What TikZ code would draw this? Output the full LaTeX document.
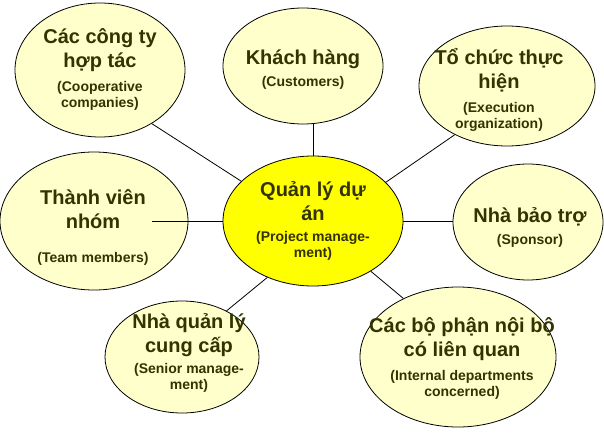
\documentclass[tikz,border=0pt]{standalone}
\usepackage{fontspec}
\setmainfont{Liberation Sans}
\definecolor{bubfill}{HTML}{FFFFCC}
\definecolor{hubfill}{HTML}{FFFF00}
\definecolor{txtcol}{HTML}{333300}
\newcommand\sub[1]{{\fontsize{14}{16}\selectfont #1}}
\begin{document}
\begin{tikzpicture}[x=1pt,y=-1pt,
  bub/.style={ellipse,draw=black,line width=0.8pt,fill=bubfill,inner sep=0pt},
  hub/.style={bub,fill=hubfill},
  txt/.style={align=center,text=txtcol,inner sep=0pt,font=\bfseries\fontsize{20}{24}\selectfont},
  conn/.style={draw=black,line width=0.8pt}]
\usetikzlibrary{shapes.geometric}
\useasboundingbox (0,0) rectangle (604,433);
\fill[white] (0,0) rectangle (604,433);
% bubbles
\node[bub,minimum width=170pt,minimum height=134pt] (coop) at (100,70) {};
\node[bub,minimum width=160pt,minimum height=116pt] (cust) at (303,66) {};
\node[bub,minimum width=176pt,minimum height=120pt] (exec) at (507,86) {};
\node[bub,minimum width=188pt,minimum height=138pt] (team) at (94,221) {};
\node[hub,minimum width=180pt,minimum height=130pt] (hubn) at (313,221) {};
\node[bub,minimum width=150pt,minimum height=116pt] (spons) at (528,222) {};
\node[bub,minimum width=154pt,minimum height=112pt] (senior) at (182,357) {};
\node[bub,minimum width=196pt,minimum height=140pt] (inner) at (458,357) {};
% texts
\node[txt] (coopt) at (100,69) {Các công ty\\hợp tác\\\sub{(Cooperative}\\[-8pt]\sub{companies)}};
\node[txt] (custt) at (303,70) {Khách hàng\\[-2pt]\sub{(Customers)}};
\node[txt] (exect) at (499,90) {Tổ chức thực\\hiện\\\sub{(Execution}\\[-8pt]\sub{organization)}};
\node[txt] (teamt) at (93,227) {Thành viên\\nhóm\\[10pt]\sub{(Team members)}};
\node[txt] (hubt) at (313,221) {Quản lý dự\\án\\[-3pt]\sub{(Project manage-}\\[-8pt]\sub{ment)}};
\node[txt] (sponst) at (530,227) {Nhà bảo trợ\\[-2pt]\sub{(Sponsor)}};
\node[txt] (seniort) at (189,353) {Nhà quản lý\\cung cấp\\[-3pt]\sub{(Senior manage-}\\[-8pt]\sub{ment)}};
\node[txt] (innert) at (462,358) {Các bộ phận nội bộ\\có liên quan\\\sub{(Internal departments}\\[-8pt]\sub{concerned)}};
% connectors
\draw[conn] (hubn.151) -- (coop.-46);
\draw[conn] (hubn.north) -- (hubn.north |- cust.south);
\draw[conn] (hubn.28) -- (exec.223);
\draw[conn] (hubn.east) -- (hubn.east -| spons.west);
\draw[conn] (hubn.231) -- (senior.46);
\draw[conn] (hubn.-41) -- (inner.133);
\coordinate (tin) at (152,224);
\draw[conn] (hubn.west) -- (hubn.west -| tin);
\end{tikzpicture}
\end{document}
